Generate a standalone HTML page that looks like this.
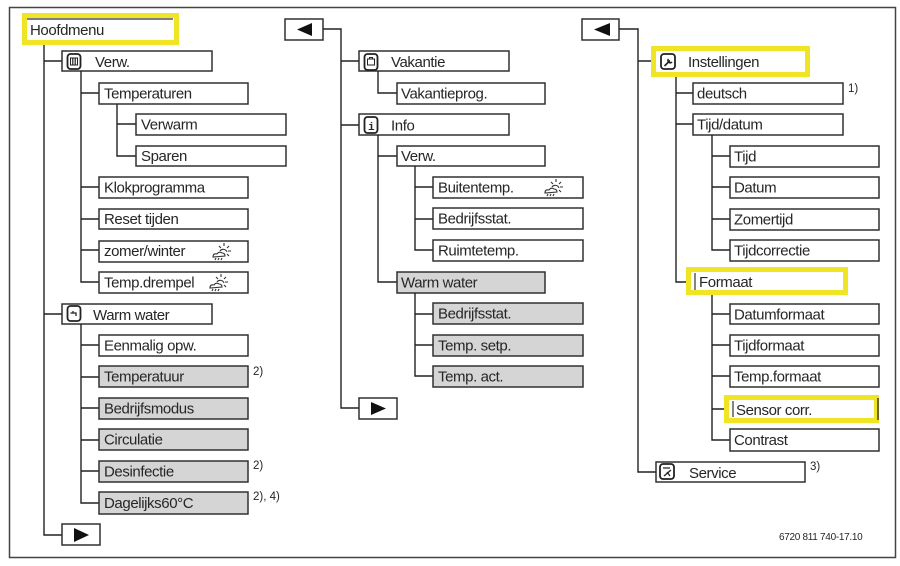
<!DOCTYPE html>
<html><head><meta charset="utf-8">
<style>
html,body{margin:0;padding:0;background:#fff;}
svg{display:block;}
text{font-family:"Liberation Sans",Arial,sans-serif;font-size:15px;letter-spacing:-0.4px;fill:#262626;}
.fn{font-size:11.5px;letter-spacing:0;}
.ft{font-size:10px;letter-spacing:-0.3px;}
.b{fill:#fff;stroke:#303030;stroke-width:1.5;}
.g{fill:#d5d5d5;stroke:#303030;stroke-width:1.5;}
.l{stroke:#222;stroke-width:1.4;fill:none;}
.y{fill:#efe524;}
.ic{fill:#fff;stroke:#222;stroke-width:1.8;}
</style></head>
<body>
<svg width="900" height="566" viewBox="0 0 900 566" xmlns="http://www.w3.org/2000/svg">
<rect x="9.5" y="7.5" width="886" height="550" fill="#fff" stroke="#444" stroke-width="1.5"/>

<!-- ================= LEFT COLUMN ================= -->
<rect class="y" x="22" y="13" width="157" height="32"/>
<rect x="27" y="18" width="147" height="22" fill="#fff"/>
<line x1="27" y1="19" x2="173" y2="19" stroke="#333" stroke-width="1.2"/>
<text x="30" y="35">Hoofdmenu</text>

<!-- main vertical -->
<path class="l" d="M44 45 V535 H62"/>
<path class="l" d="M44 61 H62 M44 314 H62"/>

<!-- Verw. -->
<rect class="b" x="62" y="51" width="150" height="20"/>
<rect class="ic" x="67.5" y="54" width="13" height="15" rx="3"/>
<rect x="70.5" y="58" width="7" height="7" fill="none" stroke="#222" stroke-width="1"/>
<path d="M72.5 58 V65 M74 58 V65 M75.5 58 V65" stroke="#222" stroke-width="0.8"/>
<text x="95" y="67">Verw.</text>

<path class="l" d="M81 71 V282 H99 M81 93 H99 M81 187 H99 M81 219 H99 M81 250 H99"/>
<path class="l" d="M117 104 V156 H136 M117 124 H136"/>

<rect class="b" x="99" y="83" width="149" height="21"/><text x="104" y="98.5">Temperaturen</text>
<rect class="b" x="136" y="114" width="150" height="21"/><text x="141" y="129.5">Verwarm</text>
<rect class="b" x="136" y="146" width="150" height="20"/><text x="141" y="161">Sparen</text>
<rect class="b" x="99" y="177" width="149" height="21"/><text x="104" y="192.5">Klokprogramma</text>
<rect class="b" x="99" y="209" width="149" height="20"/><text x="104" y="224">Reset tijden</text>
<rect class="b" x="99" y="241" width="149" height="21"/><text x="104" y="256">zomer/winter</text>
<rect class="b" x="99" y="272" width="149" height="21"/><text x="104" y="287.5">Temp.drempel</text>

<!-- sun icons -->
<g id="sun1" stroke="#333" stroke-width="1.1" fill="none">
<path d="M219 246 l2 2 M224 243 v3 M229 246 l-2 2 M231 251 h-3 M229 256 l-2 -2"/>
<path d="M220 251 a4 4 0 0 1 7 1"/>
<path d="M213 257 q0 -4 4 -3 q2 -3 5 -1 q3 0 3 3 z" fill="#fff"/>
<path d="M216 258 l-1 2 M219 258 l-1 2 M222 258 l-1 2"/>
</g>
<use href="#sun1" x="-3" y="31"/>

<!-- Warm water -->
<rect class="b" x="62" y="304" width="150" height="20"/>
<rect class="ic" x="67.5" y="306" width="13" height="15" rx="3"/>
<path d="M70.5 313 H76 V316 M73 311 V313" stroke="#222" stroke-width="1.3" fill="none"/>
<text x="93" y="320">Warm water</text>

<path class="l" d="M81 324 V503 H99 M81 345 H99 M81 377 H99 M81 408 H99 M81 440 H99 M81 471 H99"/>

<rect class="b" x="99" y="335" width="149" height="21"/><text x="104" y="350.5">Eenmalig opw.</text>
<rect class="g" x="99" y="366" width="149" height="21"/><text x="104" y="381.5">Temperatuur</text>
<rect class="g" x="99" y="398" width="149" height="21"/><text x="104" y="413.5">Bedrijfsmodus</text>
<rect class="g" x="99" y="429" width="149" height="21"/><text x="104" y="444.5">Circulatie</text>
<rect class="g" x="99" y="461" width="149" height="21"/><text x="104" y="476.5">Desinfectie</text>
<rect class="g" x="99" y="492" width="149" height="22"/><text x="104" y="508">Dagelijks60°C</text>
<text class="fn" x="253" y="375">2)</text>
<text class="fn" x="253" y="469">2)</text>
<text class="fn" x="253" y="500">2), 4)</text>

<rect class="b" x="62" y="524" width="38" height="21"/>
<polygon points="74,528 74,542 89,535" fill="#111"/>

<!-- ================= MIDDLE COLUMN ================= -->
<rect class="b" x="285" y="19" width="38" height="21"/>
<polygon points="297,29.5 312,23 312,36" fill="#111"/>
<path class="l" d="M323 29 H341 V408 H359 M341 61 H359 M341 125 H359"/>

<rect class="b" x="359" y="51" width="150" height="20"/>
<rect class="ic" x="364.5" y="54" width="13" height="16" rx="3"/>
<rect x="367.5" y="59" width="7" height="6" fill="none" stroke="#222" stroke-width="1"/>
<path d="M369.5 59 V57.5 H372.5 V59" stroke="#222" stroke-width="1" fill="none"/>
<text x="391" y="67">Vakantie</text>

<path class="l" d="M378 71 V93 H397"/>
<rect class="b" x="397" y="83" width="148" height="21"/><text x="401" y="98.5">Vakantieprog.</text>

<rect class="b" x="359" y="114" width="150" height="21"/>
<rect class="ic" x="364.5" y="117" width="13" height="16" rx="3"/>
<text x="368" y="130" style="font-size:11px;font-weight:bold;font-family:'Liberation Mono',monospace;letter-spacing:0">i</text>
<text x="391" y="130.5">Info</text>

<path class="l" d="M378 135 V282 H397 M378 156 H397"/>
<rect class="b" x="397" y="146" width="148" height="20"/><text x="401" y="161">Verw.</text>

<path class="l" d="M415 166 V250 H433 M415 187 H433 M415 219 H433"/>
<rect class="b" x="433" y="177" width="150" height="21"/><text x="438" y="192.5">Buitentemp.</text>
<use href="#sun1" x="332" y="-64"/>
<rect class="b" x="433" y="208" width="150" height="21"/><text x="438" y="223.5">Bedrijfsstat.</text>
<rect class="b" x="433" y="240" width="150" height="21"/><text x="438" y="255.5">Ruimtetemp.</text>

<rect class="g" x="397" y="272" width="148" height="21"/><text x="401" y="287.5">Warm water</text>
<path class="l" d="M415 293 V376 H433 M415 314 H433 M415 345 H433"/>
<rect class="g" x="433" y="303" width="150" height="21"/><text x="438" y="318.5">Bedrijfsstat.</text>
<rect class="g" x="433" y="335" width="150" height="21"/><text x="438" y="350.5">Temp. setp.</text>
<rect class="g" x="433" y="366" width="150" height="21"/><text x="438" y="381.5">Temp. act.</text>

<rect class="b" x="359" y="398" width="38" height="21"/>
<polygon points="371,402 371,415 386,408.5" fill="#111"/>

<!-- ================= RIGHT COLUMN ================= -->
<rect class="b" x="582" y="19" width="37" height="21"/>
<polygon points="594,29.5 610,23 610,36" fill="#111"/>
<path class="l" d="M619 29 H638 V472 H656 M638 61 H651"/>

<rect class="y" x="651" y="46" width="159" height="31"/>
<rect x="656" y="51" width="149" height="21" fill="#fff"/>
<rect class="ic" x="661" y="54" width="14" height="15" rx="3"/>
<path d="M664.5 66 L670 60.5 M668.5 59 a2.2 2.2 0 1 0 3.5 3" stroke="#222" stroke-width="1.6" fill="none"/>
<text x="688" y="67">Instellingen</text>

<path class="l" d="M676 77 V282 H687 M676 93 H693 M676 124 H693"/>
<rect class="b" x="693" y="83" width="150" height="21"/><text x="697" y="98.5">deutsch</text>
<text class="fn" x="848" y="92">1)</text>
<rect class="b" x="693" y="114" width="150" height="21"/><text x="697" y="129.5">Tijd/datum</text>

<path class="l" d="M712 135 V250 H730 M712 156 H730 M712 187 H730 M712 219 H730"/>
<rect class="b" x="730" y="146" width="149" height="21"/><text x="734" y="161.5">Tijd</text>
<rect class="b" x="730" y="177" width="149" height="21"/><text x="734" y="192.5">Datum</text>
<rect class="b" x="730" y="209" width="149" height="21"/><text x="734" y="224.5">Zomertijd</text>
<rect class="b" x="730" y="240" width="149" height="21"/><text x="734" y="255.5">Tijdcorrectie</text>

<rect class="y" x="686" y="267" width="162" height="28"/>
<rect x="691" y="272" width="152" height="18" fill="#fff"/>
<line x1="695" y1="273" x2="695" y2="290" stroke="#333" stroke-width="1.2"/>
<text x="699" y="287">Formaat</text>

<path class="l" d="M712 295 V440 H730 M712 314 H730 M712 345 H730 M712 376 H730 M712 409 H724"/>
<rect class="b" x="730" y="304" width="149" height="20"/><text x="734" y="319.5">Datumformaat</text>
<rect class="b" x="730" y="335" width="149" height="21"/><text x="734" y="350.5">Tijdformaat</text>
<rect class="b" x="730" y="366" width="149" height="21"/><text x="734" y="381.5">Temp.formaat</text>

<rect class="y" x="724" y="395" width="155" height="28"/>
<rect x="729" y="400" width="145" height="18" fill="#fff"/>
<line x1="733" y1="401" x2="733" y2="417" stroke="#333" stroke-width="1.2"/>
<line x1="878" y1="398" x2="878" y2="420" stroke="#333" stroke-width="1.4"/>
<text x="736" y="415">Sensor corr.</text>

<rect class="b" x="730" y="429" width="149" height="22"/><text x="734" y="445">Contrast</text>

<rect class="b" x="656" y="462" width="149" height="20"/>
<rect class="ic" x="660" y="464" width="14" height="15" rx="3"/>
<path d="M663 468 L670 468 M664 476 L671 470 M667 472 L670 476" stroke="#222" stroke-width="1.3" fill="none"/>
<text x="689" y="478">Service</text>
<text class="fn" x="810" y="470">3)</text>

<text class="ft" x="779" y="540">6720 811 740-17.10</text>
</svg>
</body></html>
